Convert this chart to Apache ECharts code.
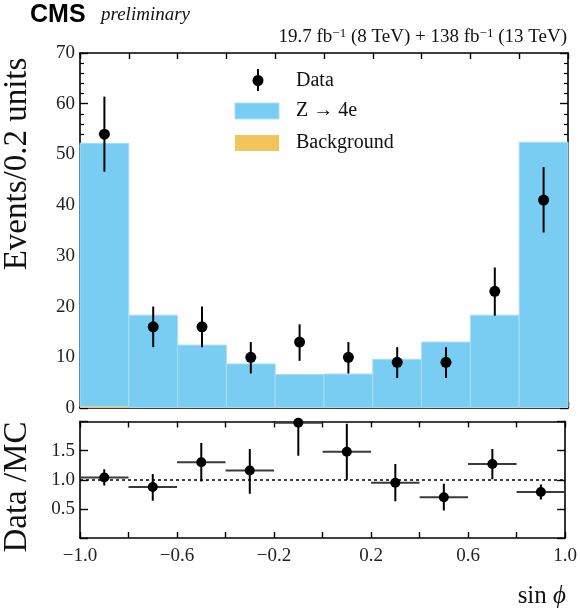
<!DOCTYPE html>
<html>
<head>
<meta charset="utf-8">
<script src="https://cdn.jsdelivr.net/npm/echarts@6/dist/echarts.min.js"></script>
<style>
html,body{margin:0;padding:0;background:#fff;}
#chart{width:580px;height:612px;}
</style>
</head>
<body>
<div id="chart"></div>
<script>
// ---- data ----
const binEdges = [-1.0, -0.8, -0.6, -0.4, -0.2, 0.0, 0.2, 0.4, 0.6, 0.8, 1.0];
const binCenters = [-0.9, -0.7, -0.5, -0.3, -0.1, 0.1, 0.3, 0.5, 0.7, 0.9];
const signalZ4e = [51.9, 18.2, 12.3, 8.6, 6.5, 6.6, 9.5, 12.9, 18.2, 52.3];
const background = [0.3, 0.1, 0.1, 0.1, 0.1, 0.1, 0.1, 0.1, 0.1, 0.1];
const dataCounts = [54, 16, 16, 10, 13, 10, 9, 9, 23, 41];
const dataLow  = [46.6, 12.0, 12.0, 6.8, 9.3, 6.8, 5.9, 5.9, 18.2, 34.6];
const dataHigh = [61.4, 20.0, 20.0, 13.0, 16.5, 13.0, 12.0, 12.0, 27.7, 47.5];
const ratio     = [1.04, 0.875, 1.30, 1.16, 1.98, 1.48, 0.95, 0.70, 1.27, 0.79];
const ratioLow  = [0.90, 0.64, 0.97, 0.76, 1.41, 1.00, 0.63, 0.47, 1.01, 0.66];
const ratioHigh = [1.18, 1.10, 1.63, 1.53, 2.55, 1.96, 1.27, 0.93, 1.53, 0.92];
const xTicks = [-1.0, -0.6, -0.2, 0.2, 0.6, 1.0];
const mainYTicks = [0, 10, 20, 30, 40, 50, 60, 70];
const ratioYTicks = [0.5, 1.0, 1.5];
const legendLabels = ['Data', 'Z → 4e', 'Background'];

// ---- styles ----
const SERIF = '"Liberation Serif", "Times New Roman", serif';
const BLUE = '#79CDF2';
const BLUE_EDGE = '#A9DDF5';
const ORANGE = '#F2C45C';
const TXT = '#222';

const fmtNum = v => (v < 0 ? '\u2212' : '') + Math.abs(v).toFixed(1);
const near = (arr, v) => arr.some(t => Math.abs(t - v) < 1e-6);

const chart = echarts.init(document.getElementById('chart'), null, {renderer: 'canvas'});

const L = 80, R = 12;
const grids = [
  {left: L, right: R, top: 53, height: 355},
  {left: L, right: R, top: 421.5, height: 116.5}
];

function xAx(gridIndex, position, showLabel) {
  return {
    type: 'value', gridIndex: gridIndex, position: position,
    min: binEdges[0], max: binEdges[binEdges.length - 1], interval: 0.2,
    axisLine: {show: true, onZero: false, lineStyle: {color: '#000', width: 1.6}},
    axisTick: {show: true, inside: true, length: 6, lineStyle: {color: '#000', width: 1.4}},
    splitLine: {show: false},
    axisLabel: showLabel ? {
      show: true, margin: 9, color: TXT, fontFamily: SERIF, fontSize: 19,
      showMinLabel: true, showMaxLabel: true,
      formatter: v => near(xTicks, v) ? fmtNum(v) : ''
    } : {show: false}
  };
}

function yAx(gridIndex, position, cfg) {
  return Object.assign({
    type: 'value', gridIndex: gridIndex, position: position,
    axisLine: {show: true, onZero: false, lineStyle: {color: '#000', width: 1.6}},
    axisTick: {show: true, inside: true, length: 8, lineStyle: {color: '#000', width: 1.4}},
    splitLine: {show: false}
  }, cfg);
}

const histData = binCenters.map((c, i) => [binEdges[i], binEdges[i + 1], 0, background[i]]);
const sigData = binCenters.map((c, i) => [binEdges[i], binEdges[i + 1], background[i], background[i] + signalZ4e[i]]);
const errData = binCenters.map((c, i) => [c, dataLow[i], dataHigh[i]]);
const ptData = binCenters.map((c, i) => [c, dataCounts[i]]);
const ratioData = binCenters.map((c, i) => [c, ratio[i], ratioLow[i], ratioHigh[i], binEdges[i], binEdges[i + 1]]);

function rectRender(fill, stroke) {
  return function (params, api) {
    const p0 = api.coord([api.value(0), api.value(3)]);
    const p1 = api.coord([api.value(1), api.value(2)]);
    return {
      type: 'rect',
      shape: {x: p0[0], y: p0[1], width: p1[0] - p0[0], height: p1[1] - p0[1]},
      style: {fill: fill, stroke: stroke, lineWidth: stroke ? 1 : 0}
    };
  };
}

const option = {
  animation: false,
  backgroundColor: '#fff',
  grid: grids,
  xAxis: [
    xAx(0, 'bottom', false),
    xAx(0, 'top', false),
    xAx(1, 'bottom', true),
    xAx(1, 'top', false)
  ],
  yAxis: [
    yAx(0, 'left', {
      min: 0, max: 70, interval: 10,
      minorTick: {show: true, splitNumber: 5, length: 4, lineStyle: {color: '#000', width: 1.2}},
      axisLabel: {show: true, margin: 5, color: TXT, fontFamily: SERIF, fontSize: 19,
        formatter: v => near(mainYTicks, v) ? String(v) : ''}
    }),
    yAx(0, 'right', {
      min: 0, max: 70, interval: 10,
      minorTick: {show: true, splitNumber: 5, length: 4, lineStyle: {color: '#000', width: 1.2}},
      axisLabel: {show: false}
    }),
    yAx(1, 'left', {
      min: 0, max: 2, interval: 0.5,
      axisLabel: {show: true, margin: 5, color: TXT, fontFamily: SERIF, fontSize: 19,
        formatter: v => near(ratioYTicks, v) ? v.toFixed(1) : ''}
    }),
    yAx(1, 'right', {min: 0, max: 2, interval: 0.5, axisLabel: {show: false}})
  ],
  series: [
    {
      name: 'Background', type: 'custom', xAxisIndex: 0, yAxisIndex: 0,
      renderItem: rectRender(ORANGE, null), data: histData,
      encode: {x: [0, 1], y: [2, 3]}, z: 1
    },
    {
      name: 'Z → 4e', type: 'custom', xAxisIndex: 0, yAxisIndex: 0,
      renderItem: rectRender(BLUE, BLUE_EDGE), data: sigData,
      encode: {x: [0, 1], y: [2, 3]}, z: 2
    },
    {
      name: 'Data errors', type: 'custom', xAxisIndex: 0, yAxisIndex: 0,
      renderItem: function (params, api) {
        const a = api.coord([api.value(0), api.value(1)]);
        const b = api.coord([api.value(0), api.value(2)]);
        return {type: 'line', shape: {x1: a[0], y1: a[1], x2: b[0], y2: b[1]},
          style: {stroke: '#000', lineWidth: 2}};
      },
      data: errData, encode: {x: 0, y: [1, 2]}, z: 3
    },
    {
      name: 'Data', type: 'scatter', xAxisIndex: 0, yAxisIndex: 0,
      symbol: 'circle', symbolSize: 11, itemStyle: {color: '#000', opacity: 1},
      data: ptData, z: 4
    },
    {
      name: 'Ratio errors', type: 'custom', xAxisIndex: 2, yAxisIndex: 2, clip: true,
      renderItem: function (params, api) {
        const c = api.coord([api.value(0), api.value(1)]);
        const lo = api.coord([api.value(0), api.value(2)]);
        const hi = api.coord([api.value(0), api.value(3)]);
        const l = api.coord([api.value(4), api.value(1)]);
        const r = api.coord([api.value(5), api.value(1)]);
        return {type: 'group', children: [
          {type: 'line', shape: {x1: l[0], y1: c[1], x2: r[0], y2: c[1]}, style: {stroke: '#3a3a3a', lineWidth: 2}},
          {type: 'line', shape: {x1: c[0], y1: lo[1], x2: c[0], y2: hi[1]}, style: {stroke: '#000', lineWidth: 2}}
        ]};
      },
      data: ratioData, encode: {x: [0, 4, 5], y: [1, 2, 3]}, z: 3
    },
    {
      name: 'Data/MC', type: 'scatter', xAxisIndex: 2, yAxisIndex: 2,
      symbol: 'circle', symbolSize: 10, itemStyle: {color: '#000', opacity: 1},
      data: binCenters.map((c, i) => [c, ratio[i]]), z: 4,
      markLine: {
        silent: true, symbol: 'none', label: {show: false},
        lineStyle: {color: '#000', type: [3, 3], width: 1.6},
        data: [{yAxis: 1.0}]
      }
    }
  ],
  graphic: [
    {type: 'text', left: 30, top: 3, style: {text: 'CMS', font: 'bold 25px "Liberation Sans", Arial, sans-serif', fill: '#000'}},
    {type: 'text', left: 101, top: 5, style: {text: 'preliminary', font: 'italic 19px ' + SERIF, fill: '#111'}},
    {type: 'text', right: 13, top: 27, style: {
      text: '19.7 fb{sup|\u22121} (8 TeV) + 138 fb{sup|\u22121} (13 TeV)',
      font: '19px ' + SERIF, fill: '#111',
      rich: {sup: {fontSize: 13, fontFamily: SERIF, verticalAlign: 'top', padding: [0, 0, 8, 0], fill: '#111'}}
    }},
    {type: 'text', x: 17, y: 164, rotation: Math.PI / 2, style: {
      text: 'Events/0.2 units', font: '33px ' + SERIF, fill: '#111', align: 'center', verticalAlign: 'middle'}},
    {type: 'text', x: 17, y: 487, rotation: Math.PI / 2, style: {
      text: 'Data /MC', font: '33px ' + SERIF, fill: '#111', align: 'center', verticalAlign: 'middle'}},
    {type: 'text', x: 566, y: 596, style: {
      text: 'sin {it|\u03d5}', font: '25px ' + SERIF, fill: '#111', align: 'right', verticalAlign: 'middle',
      rich: {it: {fontStyle: 'italic', fontSize: 25, fontFamily: SERIF}}}},
    // legend
    {type: 'line', shape: {x1: 258, y1: 69, x2: 258, y2: 91}, style: {stroke: '#000', lineWidth: 2}},
    {type: 'circle', shape: {cx: 258, cy: 80.5, r: 5.5}, style: {fill: '#000'}},
    {type: 'rect', shape: {x: 235, y: 103, width: 44, height: 16}, style: {fill: BLUE, stroke: BLUE_EDGE, lineWidth: 1}},
    {type: 'rect', shape: {x: 235, y: 135, width: 44, height: 16}, style: {fill: ORANGE}},
    {type: 'text', x: 296, y: 80.5, style: {text: legendLabels[0], font: '20px ' + SERIF, fill: '#111', verticalAlign: 'middle'}},
    {type: 'text', x: 296, y: 111, style: {text: legendLabels[1], font: '20px ' + SERIF, fill: '#111', verticalAlign: 'middle'}},
    {type: 'text', x: 296, y: 143, style: {text: legendLabels[2], font: '20px ' + SERIF, fill: '#111', verticalAlign: 'middle'}}
  ]
};
chart.setOption(option);
</script>
</body>
</html>
